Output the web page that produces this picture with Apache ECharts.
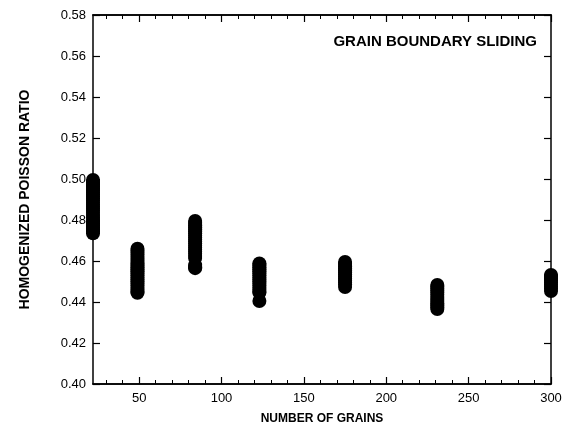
<!DOCTYPE html>
<html>
<head>
<meta charset="utf-8">
<script src="https://cdn.jsdelivr.net/npm/echarts@6/dist/echarts.min.js"></script>
<style>
html,body{margin:0;padding:0;background:#fff;}
#c{width:567px;height:430px;}
</style>
</head>
<body>
<div id="c"></div>
<script>
// ---- data ----
var grainCounts = [22, 49, 84, 123, 175, 231, 300];
var ratios22  = [0.4995, 0.4985, 0.4975, 0.4965, 0.4955, 0.4945, 0.4935, 0.4925, 0.4915, 0.4905, 0.4895, 0.4885, 0.4875, 0.4865, 0.4855, 0.4845, 0.4835, 0.4825, 0.4815, 0.4805, 0.4795, 0.4785, 0.4775, 0.4765, 0.4755, 0.4745, 0.4735];
var ratios49  = [0.4660, 0.4650, 0.4640, 0.4630, 0.4620, 0.4610, 0.4600, 0.4590, 0.4580, 0.4570, 0.4560, 0.4550, 0.4540, 0.4530, 0.4520, 0.4510, 0.4500, 0.4490, 0.4480, 0.4470, 0.4460, 0.4450, 0.4445];
var ratios84  = [0.4795, 0.4785, 0.4775, 0.4765, 0.4755, 0.4745, 0.4735, 0.4725, 0.4715, 0.4705, 0.4695, 0.4685, 0.4675, 0.4665, 0.4655, 0.4645, 0.4635, 0.4625, 0.4615, 0.4580, 0.4570, 0.4565];
var ratios123 = [0.4588, 0.4580, 0.4570, 0.4560, 0.4550, 0.4540, 0.4530, 0.4520, 0.4510, 0.4500, 0.4490, 0.4480, 0.4470, 0.4460, 0.4450, 0.4445, 0.4405];
var ratios175 = [0.4595, 0.4585, 0.4575, 0.4565, 0.4555, 0.4545, 0.4535, 0.4525, 0.4515, 0.4505, 0.4495, 0.4485, 0.4473];
var ratios231 = [0.4483, 0.4475, 0.4465, 0.4455, 0.4445, 0.4435, 0.4425, 0.4415, 0.4405, 0.4395, 0.4385, 0.4375, 0.4366];
var ratios300 = [0.4532, 0.4525, 0.4515, 0.4505, 0.4495, 0.4485, 0.4475, 0.4465, 0.4454];
var ratioGroups = [ratios22, ratios49, ratios84, ratios123, ratios175, ratios231, ratios300];

var xMajorTicks = [50, 100, 150, 200, 250, 300];
var xMinorTicks = [30, 40, 60, 70, 80, 90, 110, 120, 130, 140, 160, 170, 180, 190, 210, 220, 230, 240, 260, 270, 280, 290];
var yTicks = [0.40, 0.42, 0.44, 0.46, 0.48, 0.50, 0.52, 0.54, 0.56, 0.58];

var titleText = 'GRAIN BOUNDARY SLIDING';
var xName = 'NUMBER OF GRAINS';
var yName = 'HOMOGENIZED POISSON RATIO';

// ---- build ----
var points = [];
grainCounts.forEach(function (g, i) {
  ratioGroups[i].forEach(function (v) { points.push([g, v]); });
});

var FONT = '"Liberation Sans", Arial, Helvetica, sans-serif';
var lineStyle = {color: '#000', width: 1.5};

function xAxisBase(extra) {
  var a = {
    type: 'value', min: 22, max: 300,
    axisLine: {show: true, onZero: false, lineStyle: lineStyle},
    splitLine: {show: false},
    axisLabel: {show: false},
    axisTick: {show: false}
  };
  for (var k in extra) a[k] = extra[k];
  return a;
}
function yAxisBase(extra) {
  var a = {
    type: 'value', min: 0.40, max: 0.58, interval: 0.02,
    axisLine: {show: true, onZero: false, lineStyle: lineStyle},
    splitLine: {show: false},
    axisLabel: {show: false},
    axisTick: {show: true, inside: true, length: 7, lineStyle: {color: '#000', width: 1.2}}
  };
  for (var k in extra) a[k] = extra[k];
  return a;
}

var chart = echarts.init(document.getElementById('c'), null, {renderer: 'canvas'});
chart.setOption({
  animation: false,
  backgroundColor: '#fff',
  title: {
    text: titleText, right: 25, top: 29,
    textStyle: {fontFamily: FONT, fontSize: 15, fontWeight: 'bold', color: '#000'}
  },
  grid: {left: 93, right: 16, top: 15, bottom: 46, containLabel: false},
  xAxis: [
    xAxisBase({
      position: 'bottom',
      name: xName, nameLocation: 'middle', nameGap: 29,
      nameTextStyle: {fontFamily: FONT, fontSize: 12, fontWeight: 'bold', color: '#000'},
      axisLabel: {show: true, customValues: xMajorTicks, margin: 8,
        fontFamily: FONT, fontSize: 13, color: '#000'},
      axisTick: {show: true, inside: true, length: 7, customValues: xMajorTicks,
        lineStyle: {color: '#000', width: 1.2}}
    }),
    xAxisBase({
      position: 'bottom',
      axisTick: {show: true, inside: true, length: 4, customValues: xMinorTicks,
        lineStyle: {color: '#000', width: 1}}
    }),
    xAxisBase({
      position: 'top',
      axisTick: {show: true, inside: true, length: 7, customValues: xMajorTicks,
        lineStyle: {color: '#000', width: 1.2}}
    }),
    xAxisBase({
      position: 'top',
      axisTick: {show: true, inside: true, length: 4, customValues: xMinorTicks,
        lineStyle: {color: '#000', width: 1}}
    })
  ],
  yAxis: [
    yAxisBase({
      position: 'left',
      name: yName, nameLocation: 'middle', nameGap: 61,
      nameTextStyle: {fontFamily: FONT, fontSize: 14, fontWeight: 'bold', color: '#000'},
      axisLabel: {show: true, margin: 7, fontFamily: FONT, fontSize: 13, color: '#000',
        customValues: yTicks,
        formatter: function (v) { return v.toFixed(2); }}
    }),
    yAxisBase({position: 'right'})
  ],
  series: [{
    type: 'scatter',
    xAxisIndex: 0, yAxisIndex: 0,
    data: points,
    symbol: 'circle',
    symbolSize: 14,
    clip: false,
    itemStyle: {color: '#000', opacity: 1}
  }]
});
</script>
</body>
</html>
